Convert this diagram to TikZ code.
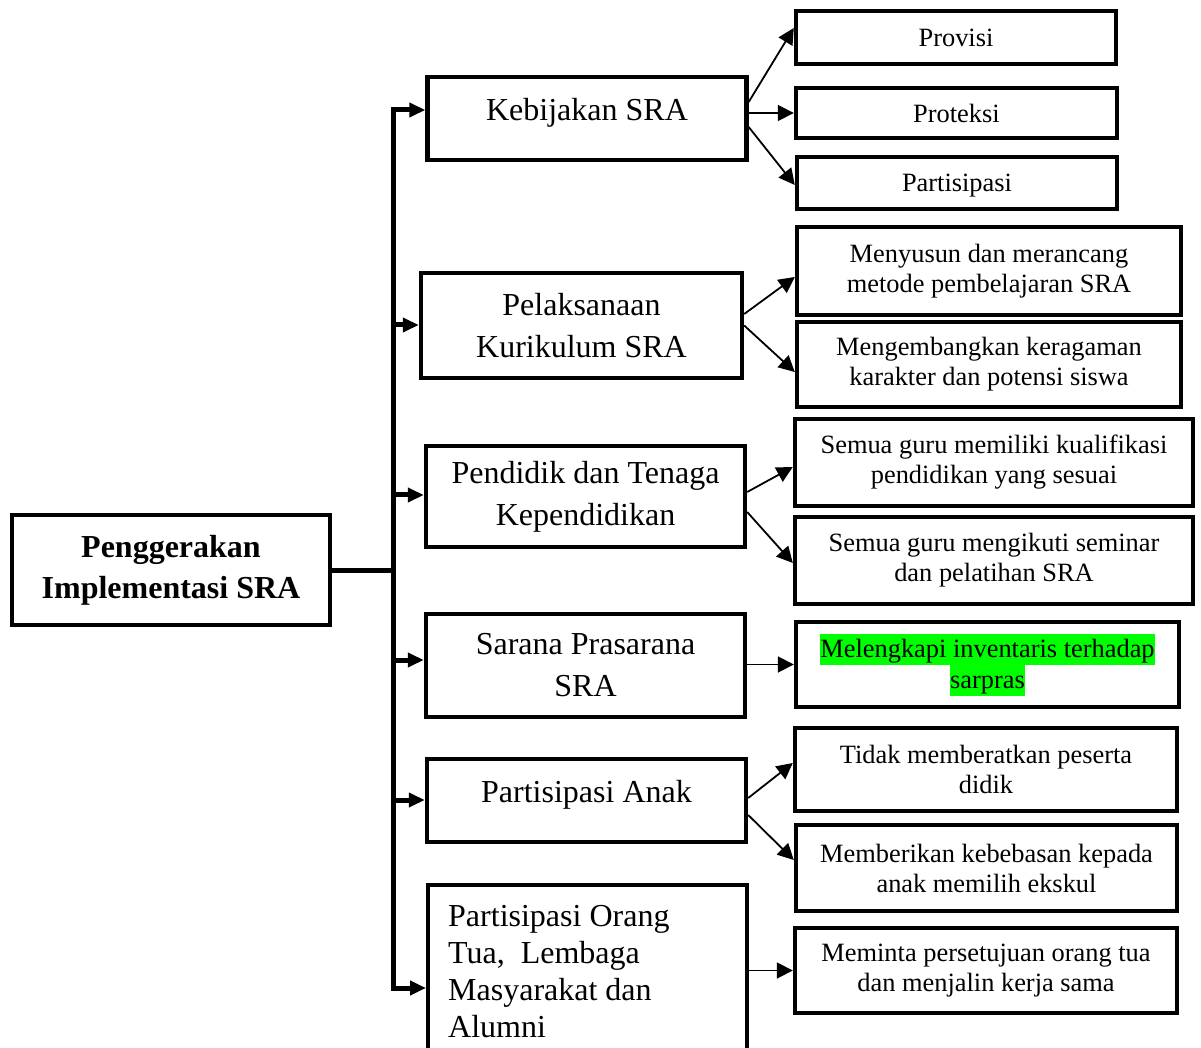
\documentclass[tikz,border=0pt]{standalone}
\usepackage{fontspec}
\setmainfont{Liberation Serif}
\usetikzlibrary{arrows.meta,positioning,calc}
\definecolor{hlgreen}{HTML}{00FF00}
\newcommand{\greenmark}[1]{{\setlength{\fboxsep}{0pt}\colorbox{hlgreen}{\rule[-3.5pt]{0pt}{15.5pt}#1}}}

\begin{document}
\begin{tikzpicture}[
  x=0.5pt, y=-0.5pt,
  rootbox/.style={
    draw, line width=2.2pt, align=center, inner sep=0pt,
    font=\bfseries\fontsize{16}{20.5}\selectfont,
    minimum width=159pt, minimum height=55pt
  },
  mainbox/.style={
    draw, line width=2.2pt, align=center, inner sep=0pt,
    font=\fontsize{16}{21}\selectfont, minimum width=159.5pt
  },
  subbox/.style={
    draw, line width=2.2pt, align=center, inner sep=0pt,
    font=\fontsize{13.2}{15}\selectfont
  },
  trunk/.style={line width=2.5pt,
    {Triangle[length=8pt,width=7pt]}-{Triangle[length=8pt,width=7pt]}},
  branch/.style={line width=2.5pt, -{Triangle[length=8pt,width=7pt]}},
  arrow/.style={line width=0.9pt, -{Triangle[length=8pt,width=8pt]}},
]
  \useasboundingbox (0,0) rectangle (1201,1048);
  \clip (0,0) rectangle (1201,1048);

  % Root (left)
  \node[rootbox] (root) at (171,570) {Penggerakan\\Implementasi SRA};

  % Middle column
  \node[mainbox, minimum height=41.5pt, text height=11pt, text depth=9.4pt]
    (kebijakan) at (587,118.5) {Kebijakan SRA};
  \node[mainbox, minimum width=160.5pt, minimum height=52.5pt]
    (pelaksanaan) at (581.5,325.5) {Pelaksanaan\\Kurikulum SRA};
  \node[mainbox, minimum height=50.5pt]
    (pendidik) at (585.5,496.5) {Pendidik dan Tenaga\\Kependidikan};
  \node[mainbox, minimum height=51.5pt]
    (sarana) at (585.5,665.5) {Sarana Prasarana\\SRA};
  \node[mainbox, minimum height=41.5pt, text height=11pt, text depth=8.9pt]
    (anak) at (586.5,800.5) {Partisipasi Anak};
  \node[mainbox, anchor=north west, align=flush left, minimum width=0pt,
    text width=139.5pt, inner xsep=10pt, inner ysep=10pt,
    font=\fontsize{16}{18.5}\selectfont]
    (orangtua) at (426,883) {Partisipasi Orang\\Tua,~ Lembaga\\Masyarakat dan\\Alumni};

  % Right column
  \node[subbox, minimum width=160pt, minimum height=26.5pt] (provisi) at (956,37.5) {Provisi};
  \node[subbox, minimum width=160.5pt, minimum height=25pt] (proteksi) at (956.5,113) {Proteksi};
  \node[subbox, minimum width=160pt, minimum height=26pt, text depth=0.5pt] (partisipasi) at (957,183) {Partisipasi};
  \node[subbox, minimum width=192pt, minimum height=44pt]
    (menyusun) at (989,271) {Menyusun dan merancang\\metode pembelajaran SRA};
  \node[subbox, minimum width=192pt, minimum height=42.5pt]
    (mengembangkan) at (989,364.5) {Mengembangkan keragaman\\karakter dan potensi siswa};
  \node[subbox, minimum width=199pt, minimum height=43.5pt]
    (memiliki) at (994,462.5) {Semua guru memiliki kualifikasi\\pendidikan yang sesuai};
  \node[subbox, minimum width=199pt, minimum height=43.5pt]
    (mengikuti) at (994,560.5) {Semua guru mengikuti seminar\\dan pelatihan SRA};
  \node[subbox, minimum width=191.5pt, minimum height=42.5pt,
    font=\fontsize{13.2}{15.5}\selectfont]
    (melengkapi) at (987.5,664.5) {\greenmark{Melengkapi inventaris terhadap}\\\greenmark{sarpras}};
  \node[subbox, minimum width=191pt, minimum height=41.5pt]
    (tidak) at (986,769.5) {Tidak memberatkan peserta\\didik};
  \node[subbox, minimum width=190.5pt, minimum height=43pt]
    (memberikan) at (986.5,868) {Memberikan kebebasan kepada\\anak memilih ekskul};
  \node[subbox, minimum width=191pt, minimum height=42.5pt]
    (meminta) at (986,970.5) {Meminta persetujuan orang tua\\dan menjalin kerja sama};

  % Trunk and branches
  \coordinate (t1) at (393,110);
  \coordinate (t2) at (393,325);
  \coordinate (t3) at (393,495);
  \coordinate (t4) at (393,660);
  \coordinate (t5) at (393,800);
  \coordinate (t6) at (393,988);
  \draw[line width=2.5pt] (root.east) -- (root.east -| t1);
  \draw[trunk] (t1 -| kebijakan.west) -- (t1) -- (t6) -- (t6 -| orangtua.west);
  \foreach \t/\b in {t2/pelaksanaan, t3/pendidik, t4/sarana, t5/anak}
    \draw[branch] (\t) -- (\t -| \b.west);

  % Arrows to the right column
  \draw[arrow] ([yshift=8.25pt]kebijakan.east) -- ([yshift=4.75pt]provisi.west);
  \draw[arrow] (kebijakan.east |- proteksi.west) -- (proteksi.west);
  \draw[arrow] ([yshift=-4.25pt]kebijakan.east) -- ([yshift=-1pt]partisipasi.west);
  \draw[arrow] ([yshift=5.75pt]pelaksanaan.east) -- ([yshift=-3pt]menyusun.west);
  \draw[arrow] (pelaksanaan.east) -- ([yshift=-3.75pt]mengembangkan.west);
  \draw[arrow] ([yshift=2.25pt]pendidik.east) -- ([yshift=-2.25pt]memiliki.west);
  \draw[arrow] ([yshift=-7.75pt]pendidik.east) -- ([yshift=-1.25pt]mengikuti.west);
  \draw[arrow] (sarana.east |- melengkapi.west) -- (melengkapi.west);
  \draw[arrow] ([yshift=1.25pt]anak.east) -- ([yshift=3.25pt]tidak.west);
  \draw[arrow] ([yshift=-7.25pt]anak.east) -- ([yshift=4pt]memberikan.west);
  \draw[arrow] (orangtua.east |- meminta.west) -- (meminta.west);

\end{tikzpicture}
\end{document}
